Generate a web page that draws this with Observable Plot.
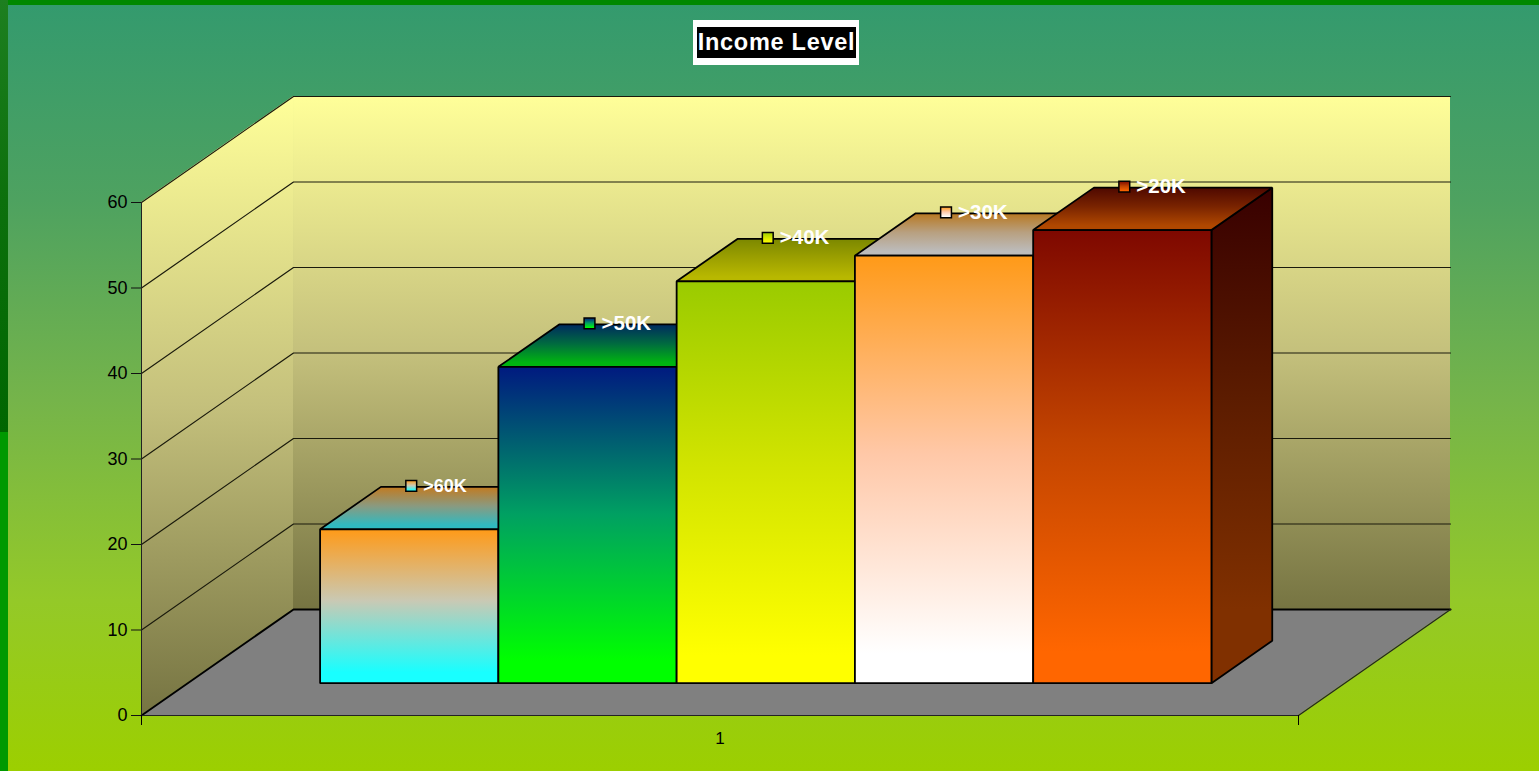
<!DOCTYPE html>
<html>
<head>
<meta charset="utf-8">
<script src="https://cdn.jsdelivr.net/npm/d3@7"></script>
<script src="https://cdn.jsdelivr.net/npm/@observablehq/plot@0.6"></script>
<style>
html,body{margin:0;padding:0;}
body{position:relative;width:1539px;height:771px;overflow:hidden;
background:linear-gradient(#339a6e 0,#4ea260 200px,#75b44a 400px,#94c928 600px,#9ccf00 771px);}
#top{position:absolute;left:0;top:0;width:1539px;height:5px;background:#008800;}
#left{position:absolute;left:0;top:0;width:8px;height:771px;
background:linear-gradient(#1d7f20 0,#0c700c 200px,#006600 432px,#009900 432px,#009900 771px);}
#title{position:absolute;left:693px;top:20px;width:166px;height:45px;box-sizing:border-box;
border:solid #fff;border-width:7px 3px 7px 4px;background:#000;color:#fff;
font:bold 23.5px "Liberation Sans",Arial,sans-serif;letter-spacing:.72px;line-height:31px;text-align:center;white-space:nowrap;}
#chart{position:absolute;left:0;top:0;}
svg{overflow:visible;background:none;}
</style>
</head>
<body>
<div id="top"></div><div id="left"></div>
<div id="chart"></div>
<div id="title">Income Level</div>
<script>
const categories = [">60K", ">50K", ">40K", ">30K", ">20K"];
const values = [18, 37, 47, 50, 53];
const yTicks = [0, 10, 20, 30, 40, 50, 60];
const categoryLabel = "1";

// Excel-style oblique 3D: gap 150% on each side, in units of one bar
const slots = categories.length + 1.5;
const gap = 0.75;
const barWidth = 1.0015;
const yMax = 60;
const depthX = 0.854;   // one full depth step, in bar widths
const depthY = 12.4;    // one full depth step, in value units
const depthFront = 0.3, depthBack = 0.7;
const px = (x, d) => x + d * depthX;
const py = (v, d) => v + d * depthY;

const frontStops = [
  ["#ff9a18", "#c9c9b4", "#18ffff"],
  ["#001a80", "#00a062", "#00ff00"],
  ["#9acb00", "#d2e400", "#ffff00"],
  ["#ff9a18", "#ffc8a8", "#ffffff"],
  ["#7e0800", "#c24400", "#ff6600"]
];
const topStops = [
  ["#c27a20", "#8a9a80", "#30bac0"],
  ["#002a60", "#006a40", "#00b410"],
  ["#7c8800", "#9ca000", "#b8b800"],
  ["#b87820", "#b8a080", "#bcbcbc"],
  ["#4e0800", "#7a2400", "#b04800"]
];
const sideStops = ["#380000", "#5c1c00", "#803000"];
const wallStops = ["#ffff99", "#c4c07c", "#767442"];

function gradient(defs, id, stops, reach) {
  const g = defs.append("linearGradient").attr("id", id)
    .attr("x1", 0).attr("y1", 0).attr("x2", 0).attr("y2", 1);
  stops.forEach((c, i) => g.append("stop").attr("offset", reach * i / (stops.length - 1)).attr("stop-color", c));
}
const defsMark = () => {
  const defs = d3.create("svg:defs");
  categories.forEach((_, i) => {
    gradient(defs, "front" + i, frontStops[i], 0.93);
    gradient(defs, "top" + i, topStops[i], 0.9);
  });
  gradient(defs, "side", sideStops, 0.85);
  gradient(defs, "wall", wallStops, 1);
  return defs.node();
};

const ink = "#000";
const marks = [defsMark];

// walls
marks.push(Plot.areaY([0, 1], {
  x: d => px(0, d), y1: d => py(0, d), y2: d => py(yMax, d), fill: "url(#wall)"
}));
marks.push(Plot.areaY([0, slots], {
  x: d => px(d, 1), y1: () => py(0, 1), y2: () => py(yMax, 1), fill: "url(#wall)"
}));
// floor
marks.push(Plot.areaX([0, 1], {
  y: d => py(0, d), x1: d => px(0, d), x2: d => px(slots, d), fill: "#808080"
}));
// grid lines, along the left wall and the back wall
yTicks.slice(1).forEach(t => {
  marks.push(Plot.line([[0, 0], [0, 1], [slots, 1]], {
    x: d => px(d[0], d[1]), y: d => py(t, d[1]), stroke: "#1a1a0c", strokeWidth: 1.2
  }));
});
// floor edges
marks.push(Plot.line([[0, 0], [0, 1], [slots, 1]], {
  x: d => px(d[0], d[1]), y: d => py(0, d[1]), stroke: ink, strokeWidth: 2
}));
marks.push(Plot.line([[0, 0], [slots, 0], [slots, 1]], {
  x: d => px(d[0], d[1]), y: d => py(0, d[1]), stroke: "#222", strokeWidth: 1.2
}));
// left axis line
marks.push(Plot.ruleX([0], {y1: 0, y2: yMax, stroke: "#222", strokeWidth: 1}));

// bars
categories.forEach((name, i) => {
  const x0 = gap + i * barWidth, x1 = x0 + barWidth, v = values[i];
  const outline = {stroke: ink, strokeWidth: 1.8, strokeLinejoin: "miter"};
  marks.push(Plot.areaY([depthFront, depthBack], {
    x: d => px(x1, d), y1: d => py(0, d), y2: d => py(v, d), fill: "url(#side)", ...outline
  }));
  marks.push(Plot.areaX([depthFront, depthBack], {
    y: d => py(v, d), x1: d => px(x0, d), x2: d => px(x1, d), fill: `url(#top${i})`, ...outline
  }));
  marks.push(Plot.areaY([x0, x1], {
    x: d => px(d, depthFront), y1: () => py(0, depthFront), y2: () => py(v, depthFront),
    fill: `url(#front${i})`, ...outline
  }));
});

// data markers and labels
categories.forEach((name, i) => {
  const at = [{x: px(gap + (i + 0.5) * barWidth, depthFront), y: py(values[i], depthBack)}];
  marks.push(Plot.dot(at, {
    x: "x", y: "y", dx: 1.5, dy: -1.5, symbol: "square", r: 6.1,
    fill: `url(#front${i})`, stroke: ink, strokeWidth: 1.5
  }));
  marks.push(Plot.text(at, {
    x: "x", y: "y", dx: 13.5, dy: -1.5, text: () => name, textAnchor: "start",
    fill: "#fff", fontWeight: "bold", fontSize: i === 0 ? 18 : 20.5
  }));
});

// axes
marks.push(Plot.axisY({
  ticks: yTicks, tickSize: 10, tickPadding: 4, anchor: "left",
  label: null, stroke: "#111", color: "#000", fontSize: 18
}));
marks.push(Plot.axisX({
  ticks: [0, slots], tickSize: 10, tickFormat: () => "", label: null, anchor: "bottom", stroke: "#000"
}));
marks.push(Plot.axisX({
  ticks: [slots / 2], tickSize: 0, tickPadding: 16, tickFormat: () => categoryLabel,
  label: null, anchor: "bottom", fontSize: 17, stroke: "none", fill: "#000"
}));

const chart = Plot.plot({
  width: 1539, height: 771,
  marginLeft: 141, marginRight: 241, marginTop: 202, marginBottom: 56,
  x: {domain: [0, slots]},
  y: {domain: [0, yMax]},
  style: {background: "transparent", fontFamily: '"Liberation Sans",Arial,sans-serif', overflow: "visible"},
  marks
});
document.getElementById("chart").appendChild(chart);
</script>
</body>
</html>
